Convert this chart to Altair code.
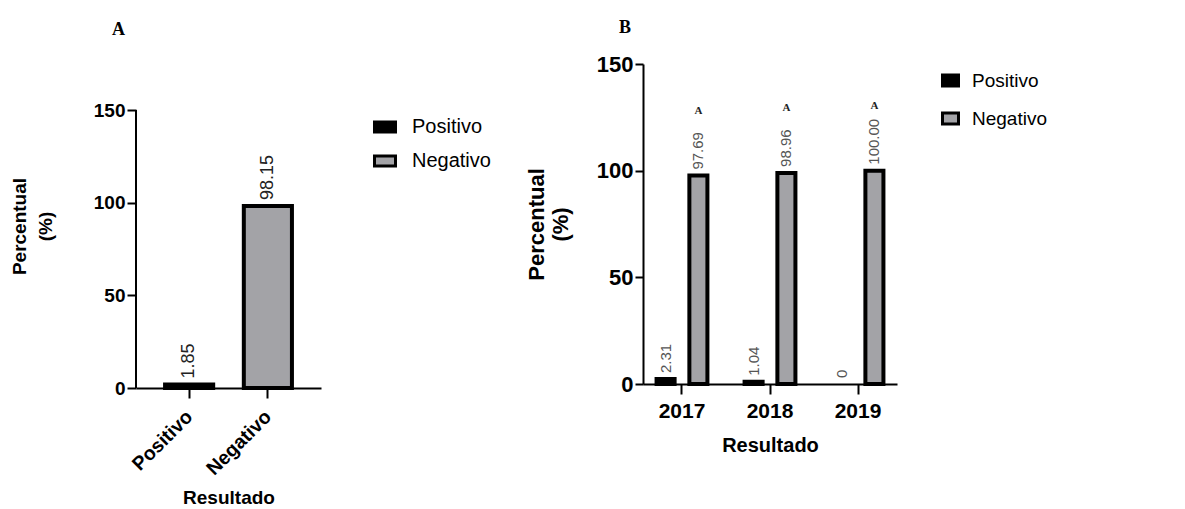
import altair as alt
import pandas as pd

# ---------------- data ----------------
series = ["Positivo", "Negativo"]
colors = ["#000000", "#a3a3a7"]
y_ticks = [0, 50, 100, 150]

# Panel A
a_categories = ["Positivo", "Negativo"]
a_values = [1.85, 98.15]
a_labels = ["1.85", "98.15"]

# Panel B
b_years = ["2017", "2018", "2019"]
b_positivo = [2.31, 1.04, 0.0]
b_negativo = [97.69, 98.96, 100.00]
b_pos_labels = ["2.31", "1.04", "0"]
b_neg_labels = ["97.69", "98.96", "100.00"]
b_sig = ["A", "A", "A"]

dfA = pd.DataFrame({"Resultado": a_categories, "value": a_values, "label": a_labels})
dfAxisA = pd.DataFrame({"y0": [min(y_ticks)], "y1": [max(y_ticks)]})

rows = []
for i, yr in enumerate(b_years):
    rows.append({"year": yr, "Resultado": "Positivo", "value": b_positivo[i], "label": b_pos_labels[i]})
    rows.append({"year": yr, "Resultado": "Negativo", "value": b_negativo[i], "label": b_neg_labels[i]})
dfB = pd.DataFrame(rows)
dfSig = pd.DataFrame({"year": b_years, "Resultado": ["Negativo"] * 3, "value": b_negativo, "sig": b_sig})

SANS = "Liberation Sans"
SERIF = "Liberation Serif"

# ---------------- panel A ----------------
# panel A's axis spans 278 px for 0..150 but its view shares the top edge with panel B
A_HEIGHT = 324
A_AXIS_PX = 278
a_ymax = max(y_ticks) * A_HEIGHT / A_AXIS_PX

xA = alt.X("Resultado:N", sort=series,
           scale=alt.Scale(domain=series, paddingInner=0.389, paddingOuter=0.369),
           axis=alt.Axis(labelAngle=-45, labelFont=SANS, labelFontWeight="bold", labelFontSize=19.5,
                         labelColor="black", domainColor="black", domainWidth=2, tickColor="black",
                         tickWidth=2, tickSize=10, labelPadding=9, labelOffset=-6, titleFont=SANS,
                         titleFontSize=19, titleFontWeight="bold", titleColor="black",
                         titlePadding=10),
           title="Resultado")
yA = alt.Y("value:Q", scale=alt.Scale(domain=[0, a_ymax], nice=False),
           axis=alt.Axis(values=y_ticks, grid=False, domain=False, labelFont=SANS,
                         labelFontWeight="bold", labelFontSize=19, labelColor="black",
                         tickColor="black", tickWidth=2, tickSize=9, labelPadding=2, titleFont=SANS,
                         titleFontSize=19, titleFontWeight="bold", titleColor="black",
                         titleLineHeight=26, titlePadding=38),
           title=["Percentual", "(%)"])
colorA = alt.Color("Resultado:N", scale=alt.Scale(domain=series, range=colors),
                   legend=alt.Legend(title=None, orient="none", legendX=237, legendY=51,
                                     symbolType="M-1,-0.48H1V0.48H-1Z", symbolSize=441,
                                     symbolStrokeColor="black", symbolStrokeWidth=3,
                                     labelFont=SANS, labelFontSize=20, labelColor="black",
                                     labelOffset=15, rowPadding=10))

axisA = alt.Chart(dfAxisA).mark_rule(color="black", strokeWidth=2).encode(
    x=alt.value(0), y=alt.Y("y0:Q", scale=alt.Scale(domain=[0, a_ymax], nice=False)), y2="y1:Q")
barsA = alt.Chart(dfA).mark_bar(stroke="black", strokeWidth=4).encode(x=xA, y=yA, color=colorA)
textA = alt.Chart(dfA).mark_text(angle=270, align="left", baseline="middle", dx=6, fontSize=18,
                                 font=SANS, color="#222222").encode(x=xA, y=yA, text="label:N")
chartA = alt.layer(barsA, textA, axisA).properties(
    width=185, height=A_HEIGHT,
    title=alt.TitleParams("A", anchor="start", frame="group", font=SERIF, fontSize=18,
                          fontWeight="bold", color="black", dx=-24, offset=25))

# ---------------- panel B ----------------
xB = alt.X("year:N", sort=b_years,
           scale=alt.Scale(domain=b_years, paddingInner=0.4, paddingOuter=0.143),
           axis=alt.Axis(labelAngle=0, labelFont=SANS, labelFontWeight="bold", labelFontSize=21,
                         labelColor="black", domainColor="black", domainWidth=2, tickColor="black",
                         tickWidth=2, tickSize=10, labelPadding=6, titleFont=SANS, titleFontSize=20,
                         titleFontWeight="bold", titleColor="black", titlePadding=14),
           title="Resultado")
xoB = alt.XOffset("Resultado:N", sort=series,
                  scale=alt.Scale(domain=series, paddingInner=0.45, paddingOuter=0.03))
yB = alt.Y("value:Q", scale=alt.Scale(domain=[0, 150]),
           axis=alt.Axis(values=y_ticks, grid=False, labelFont=SANS, labelFontWeight="bold",
                         labelFontSize=22, labelColor="black", domainColor="black", domainWidth=2,
                         tickColor="black", tickWidth=2, tickSize=8, labelPadding=2, titleFont=SANS,
                         titleFontSize=22, titleFontWeight="bold", titleColor="black",
                         titleLineHeight=24, titlePadding=24),
           title=["Percentual", "(%)"])
colorB = alt.Color("Resultado:N", scale=alt.Scale(domain=series, range=colors),
                   legend=alt.Legend(title=None, orient="none", legendX=298, legendY=7,
                                     symbolType="M-1,-0.69H1V0.69H-1Z", symbolSize=256,
                                     symbolStrokeColor="black", symbolStrokeWidth=3,
                                     labelFont=SANS, labelFontSize=19, labelColor="black",
                                     labelOffset=12, rowPadding=13))

barsB = alt.Chart(dfB).transform_filter("datum.value > 0").mark_bar(
    stroke="black", strokeWidth=4).encode(x=xB, xOffset=xoB, y=yB, color=colorB)
textB = alt.Chart(dfB).mark_text(angle=270, align="left", baseline="middle", dx=6, fontSize=15,
                                 font=SANS, color="#555555").encode(x=xB, xOffset=xoB, y=yB,
                                                                     text="label:N")
sigB = alt.Chart(dfSig).mark_text(baseline="bottom", dy=-60, fontSize=11, font=SERIF,
                                  fontWeight="bold", color="#222222").encode(
    x=xB, xOffset=xoB, y=yB, text="sig:N")
chartB = alt.layer(barsB, textB, sigB).properties(
    width=254, height=320,
    title=alt.TitleParams("B", anchor="start", frame="group", font=SERIF, fontSize=18,
                          fontWeight="bold", color="black", dx=-24, offset=16))

chart = alt.hconcat(chartA, chartB, spacing=34).resolve_scale(
    color="independent", y="independent").resolve_legend(color="independent").properties(
    padding={"left": 2, "top": 11, "right": 0, "bottom": 0}, background="white"
).configure_view(stroke=None)

chart.save("out.html", embed_options={"renderer": "svg", "actions": False})
